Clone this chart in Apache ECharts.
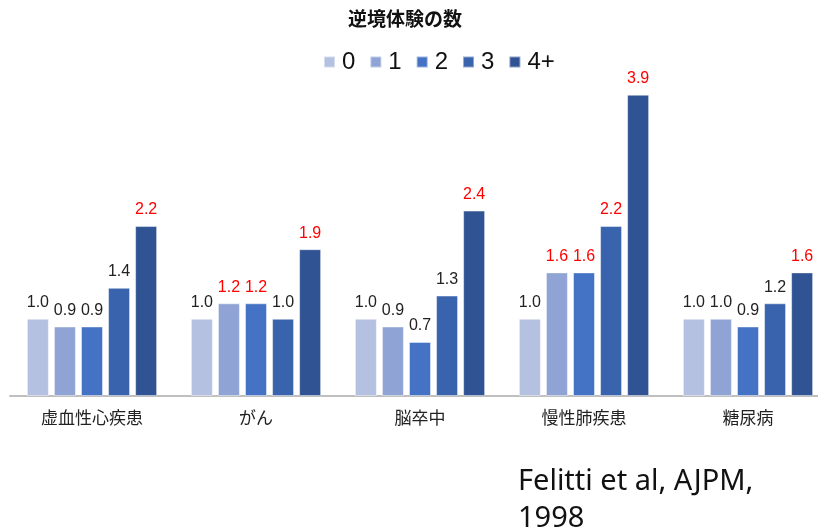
<!DOCTYPE html>
<html>
<head>
<meta charset="utf-8">
<script src="https://cdn.jsdelivr.net/npm/echarts@6/dist/echarts.min.js"></script>
<style>
  html, body { margin: 0; padding: 0; background: #fff; }
  #chart { width: 818px; height: 529px; }
</style>
</head>
<body>
<div id="chart"></div>
<script>
// Relative risk of disease by number of adverse childhood experiences
const categories = ['虚血性心疾患', 'がん', '脳卒中', '慢性肺疾患', '糖尿病'];
const groupNames = ['0', '1', '2', '3', '4+'];
const values0 = [1.0, 1.0, 1.0, 1.0, 1.0];
const values1 = [0.9, 1.2, 0.9, 1.6, 1.0];
const values2 = [0.9, 1.2, 0.7, 1.6, 0.9];
const values3 = [1.4, 1.0, 1.3, 2.2, 1.2];
const values4 = [2.2, 1.9, 2.4, 3.9, 1.6];
// statistically significant results (labels shown in red)
const sig0 = [false, false, false, false, false];
const sig1 = [false, true, false, true, false];
const sig2 = [false, true, false, true, false];
const sig3 = [false, false, false, true, false];
const sig4 = [true, true, true, true, true];

const seriesValues = [values0, values1, values2, values3, values4];
const seriesSig = [sig0, sig1, sig2, sig3, sig4];
const colors = ['#b4c1e1', '#8fa3d4', '#4472c4', '#3a63ad', '#2f5393'];

const chart = echarts.init(document.getElementById('chart'));

const series = groupNames.map((name, i) => ({
  name: name,
  type: 'bar',
  barWidth: 22,
  barGap: '23%',
  itemStyle: { color: colors[i], borderColor: 'rgba(255,255,255,0.45)', borderWidth: 1 },
  data: seriesValues[i].map((v, j) => ({
    value: v,
    label: { color: seriesSig[i][j] ? '#ff0000' : '#222222' }
  })),
  label: {
    show: true,
    position: 'top',
    distance: 8,
    fontFamily: 'Liberation Sans, Arial, sans-serif',
    fontSize: 16,
    formatter: p => p.value.toFixed(1)
  }
}));

chart.setOption({
  animation: false,
  color: colors,
  title: {
    text: '逆境体験の数',
    left: 343,
    top: 4,
    textStyle: { fontFamily: 'Noto Sans CJK JP', fontSize: 19, fontWeight: 'bold', color: '#111' }
  },
  legend: {
    top: 45,
    left: 318,
    itemWidth: 11,
    itemHeight: 11,
    itemGap: 14,
    icon: 'rect',
    textStyle: { fontFamily: 'Liberation Sans, Arial, sans-serif', fontSize: 24, color: '#111', padding: [0, 0, 0, 2] },
    data: groupNames
  },
  grid: { left: 10, top: 87, width: 820, bottom: 133, containLabel: false, outerBoundsMode: 'none' },
  xAxis: {
    type: 'category',
    data: categories,
    axisLine: { lineStyle: { color: '#bfbfbf', width: 2 } },
    axisTick: { show: false },
    axisLabel: { fontFamily: 'Noto Sans CJK JP', fontSize: 17, color: '#222', margin: 13 }
  },
  yAxis: {
    type: 'value',
    min: 0,
    max: 4,
    show: false,
    splitLine: { show: false }
  },
  graphic: [
    {
      type: 'text',
      left: 518,
      top: 463,
      style: {
        text: 'Felitti et al, AJPM,\n1998',
        font: '29px "Noto Sans", sans-serif',
        lineHeight: 37,
        fill: '#111'
      }
    }
  ],
  series: series
});
</script>
</body>
</html>
